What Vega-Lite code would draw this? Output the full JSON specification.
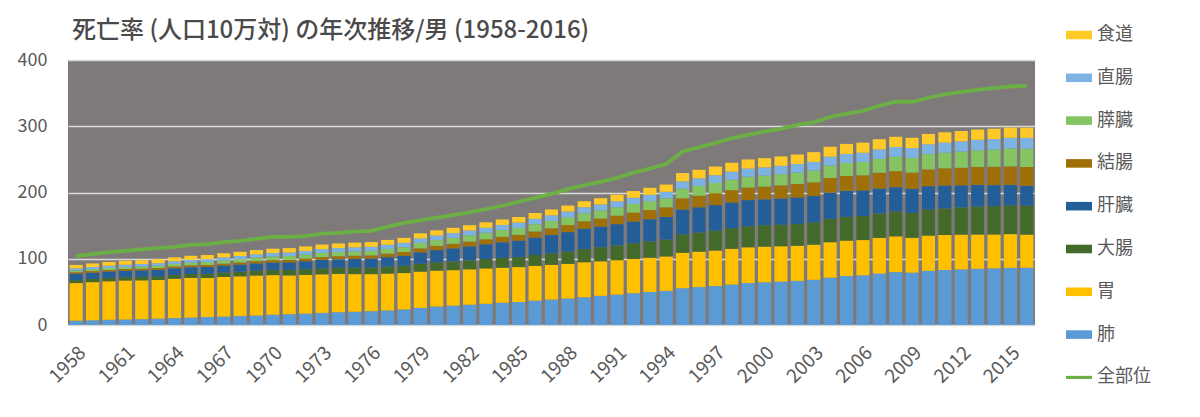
{
  "$schema": "https://vega.github.io/schema/vega-lite/v6.json",
  "width": 967,
  "height": 265,
  "autosize": {"type": "none"},
  "padding": {"left": 68, "top": 60, "right": 165, "bottom": 92},
  "background": "white",
  "title": {"text": "死亡率 (人口10万対) の年次推移/男 (1958-2016)", "anchor": "start", "frame": "group", "dx": 4, "offset": -21, "font": "Noto Sans CJK JP", "fontSize": 24, "fontWeight": 500, "color": "#4A4A4A"},
  "datasets": {
    "ranks": [
      {"series": "肺", "rank": 1}, {"series": "胃", "rank": 2}, {"series": "大腸", "rank": 3}, {"series": "肝臓", "rank": 4},
      {"series": "結腸", "rank": 5}, {"series": "膵臓", "rank": 6}, {"series": "直腸", "rank": 7}, {"series": "食道", "rank": 8}
    ]
  },
  "data": {"values": [
    {"year":1958,"肺":6.5,"胃":56.8,"大腸":4.5,"肝臓":9.5,"結腸":2.4,"膵臓":2.6,"直腸":3.2,"食道":5.2,"全部位":104},
    {"year":1959,"肺":7.2,"胃":57.5,"大腸":4.7,"肝臓":9.6,"結腸":2.4,"膵臓":2.8,"直腸":3.3,"食道":5.4,"全部位":107},
    {"year":1960,"肺":7.8,"胃":58.3,"大腸":4.9,"肝臓":9.7,"結腸":2.5,"膵臓":3.0,"直腸":3.4,"食道":5.6,"全部位":110},
    {"year":1961,"肺":8.3,"胃":58.8,"大腸":5.0,"肝臓":9.8,"結腸":2.5,"膵臓":3.2,"直腸":3.5,"食道":5.7,"全部位":112},
    {"year":1962,"肺":8.8,"胃":58.6,"大腸":5.2,"肝臓":9.8,"結腸":2.6,"膵臓":3.4,"直腸":3.6,"食道":5.8,"全部位":114},
    {"year":1963,"肺":9.6,"胃":58.4,"大腸":5.4,"肝臓":9.9,"結腸":2.7,"膵臓":3.6,"直腸":3.7,"食道":5.9,"全部位":116},
    {"year":1964,"肺":10.4,"胃":59.5,"大腸":5.7,"肝臓":10.0,"結腸":2.8,"膵臓":3.9,"直腸":3.9,"食道":6.0,"全部位":118},
    {"year":1965,"肺":11.2,"胃":59.8,"大腸":6.0,"肝臓":10.2,"結腸":2.9,"膵臓":4.2,"直腸":4.1,"食道":6.1,"全部位":121},
    {"year":1966,"肺":12.0,"胃":59.0,"大腸":6.3,"肝臓":10.3,"結腸":3.0,"膵臓":4.5,"直腸":4.3,"食道":6.2,"全部位":122},
    {"year":1967,"肺":12.7,"胃":59.8,"大腸":6.6,"肝臓":10.5,"結腸":3.1,"膵臓":4.8,"直腸":4.5,"食道":6.3,"全部位":125},
    {"year":1968,"肺":13.5,"胃":60.0,"大腸":7.0,"肝臓":10.7,"結腸":3.2,"膵臓":5.0,"直腸":4.7,"食道":6.4,"全部位":127},
    {"year":1969,"肺":14.3,"胃":60.4,"大腸":7.4,"肝臓":10.9,"結腸":3.4,"膵臓":5.3,"直腸":4.9,"食道":6.5,"全部位":130},
    {"year":1970,"肺":15.5,"胃":59.8,"大腸":7.8,"肝臓":11.2,"結腸":3.6,"膵臓":5.6,"直腸":5.1,"食道":6.6,"全部位":133},
    {"year":1971,"肺":16.3,"胃":58.6,"大腸":8.1,"肝臓":11.6,"結腸":3.8,"膵臓":5.8,"直腸":5.2,"食道":6.7,"全部位":133},
    {"year":1972,"肺":17.2,"胃":58.5,"大腸":8.5,"肝臓":12.1,"結腸":4.0,"膵臓":6.1,"直腸":5.4,"食道":6.8,"全部位":134},
    {"year":1973,"肺":18.2,"胃":58.3,"大腸":9.0,"肝臓":12.7,"結腸":4.3,"膵臓":6.4,"直腸":5.6,"食道":6.9,"全部位":138},
    {"year":1974,"肺":19.3,"胃":57.8,"大腸":9.4,"肝臓":12.8,"結腸":4.5,"膵臓":6.5,"直腸":5.8,"食道":7.0,"全部位":139},
    {"year":1975,"肺":20.0,"胃":56.8,"大腸":9.8,"肝臓":13.2,"結腸":4.8,"膵臓":6.6,"直腸":6.0,"食道":7.1,"全部位":141},
    {"year":1976,"肺":20.8,"胃":56.0,"大腸":9.9,"肝臓":13.6,"結腸":4.8,"膵臓":6.8,"直腸":6.1,"食道":7.2,"全部位":142},
    {"year":1977,"肺":22.0,"胃":55.6,"大腸":10.6,"肝臓":14.2,"結腸":5.3,"膵臓":7.1,"直腸":6.3,"食道":7.3,"全部位":148},
    {"year":1978,"肺":23.4,"胃":55.0,"大腸":11.1,"肝臓":15.0,"結腸":5.6,"膵臓":7.4,"直腸":6.5,"食道":7.5,"全部位":154},
    {"year":1979,"肺":25.8,"胃":54.8,"大腸":11.8,"肝臓":17.3,"結腸":6.0,"膵臓":8.3,"直腸":6.7,"食道":7.6,"全部位":158},
    {"year":1980,"肺":27.8,"胃":54.3,"大腸":12.5,"肝臓":18.5,"結腸":6.4,"膵臓":8.7,"直腸":6.9,"食道":7.8,"全部位":162},
    {"year":1981,"肺":29.2,"胃":53.6,"大腸":13.1,"肝臓":19.8,"結腸":6.8,"膵臓":9.1,"直腸":7.1,"食道":7.9,"全部位":166},
    {"year":1982,"肺":30.6,"胃":53.5,"大腸":13.6,"肝臓":21.0,"結腸":7.2,"膵臓":9.5,"直腸":7.3,"食道":8.0,"全部位":170},
    {"year":1983,"肺":32.0,"胃":53.4,"大腸":14.2,"肝臓":22.2,"結腸":7.6,"膵臓":9.9,"直腸":7.5,"食道":8.2,"全部位":175},
    {"year":1984,"肺":33.5,"胃":53.0,"大腸":14.8,"肝臓":23.6,"結腸":8.1,"膵臓":10.3,"直腸":7.7,"食道":8.3,"全部位":180},
    {"year":1985,"肺":34.6,"胃":52.8,"大腸":15.2,"肝臓":24.8,"結腸":8.6,"膵臓":10.6,"直腸":7.9,"食道":8.5,"全部位":186},
    {"year":1986,"肺":36.8,"胃":52.5,"大腸":16.3,"肝臓":26.4,"結腸":9.2,"膵臓":11.0,"直腸":8.1,"食道":8.7,"全部位":192},
    {"year":1987,"肺":38.4,"胃":52.4,"大腸":17.4,"肝臓":27.8,"結腸":9.9,"膵臓":11.3,"直腸":8.3,"食道":8.9,"全部位":198},
    {"year":1988,"肺":40.0,"胃":52.3,"大腸":18.7,"肝臓":29.2,"結腸":10.7,"膵臓":11.7,"直腸":8.6,"食道":9.1,"全部位":205},
    {"year":1989,"肺":42.0,"胃":52.6,"大腸":20.0,"肝臓":30.5,"結腸":11.5,"膵臓":12.1,"直腸":8.9,"食道":9.3,"全部位":211},
    {"year":1990,"肺":44.0,"胃":52.2,"大腸":21.2,"肝臓":31.2,"結腸":12.1,"膵臓":12.3,"直腸":8.9,"食道":9.5,"全部位":216},
    {"year":1991,"肺":45.8,"胃":52.0,"大腸":22.4,"肝臓":32.0,"結腸":12.8,"膵臓":12.6,"直腸":9.2,"食道":9.8,"全部位":222},
    {"year":1992,"肺":48.0,"胃":51.8,"大腸":23.6,"肝臓":32.8,"結腸":13.4,"膵臓":13.0,"直腸":9.4,"食道":10.2,"全部位":230},
    {"year":1993,"肺":49.8,"胃":51.8,"大腸":24.6,"肝臓":33.4,"結腸":14.0,"膵臓":13.3,"直腸":9.6,"食道":10.6,"全部位":236},
    {"year":1994,"肺":51.5,"胃":52.0,"大腸":25.5,"肝臓":34.0,"結腸":14.6,"膵臓":13.6,"直腸":9.8,"食道":11.0,"全部位":243},
    {"year":1995,"肺":55.5,"胃":53.4,"大腸":28.0,"肝臓":37.5,"結腸":16.8,"膵臓":14.5,"直腸":11.0,"食道":12.6,"全部位":262},
    {"year":1996,"肺":57.2,"胃":53.5,"大腸":29.0,"肝臓":38.0,"結腸":17.4,"膵臓":15.0,"直腸":11.3,"食道":12.9,"全部位":268},
    {"year":1997,"肺":58.8,"胃":53.6,"大腸":30.0,"肝臓":38.6,"結腸":18.0,"膵臓":15.4,"直腸":11.6,"食道":13.2,"全部位":275},
    {"year":1998,"肺":61.0,"胃":54.0,"大腸":31.0,"肝臓":39.0,"結腸":18.5,"膵臓":15.9,"直腸":12.0,"食道":13.5,"全部位":282},
    {"year":1999,"肺":63.3,"胃":54.0,"大腸":31.8,"肝臓":39.4,"結腸":19.1,"膵臓":16.3,"直腸":12.2,"食道":13.8,"全部位":287},
    {"year":2000,"肺":64.5,"胃":53.8,"大腸":32.2,"肝臓":39.2,"結腸":19.2,"膵臓":16.5,"直腸":12.4,"食道":14.1,"全部位":292},
    {"year":2001,"肺":65.5,"胃":53.4,"大腸":32.5,"肝臓":39.6,"結腸":19.7,"膵臓":16.9,"直腸":12.6,"食道":14.3,"全部位":296},
    {"year":2002,"肺":66.6,"胃":53.0,"大腸":33.0,"肝臓":40.0,"結腸":20.2,"膵臓":17.3,"直腸":12.8,"食道":14.5,"全部位":302},
    {"year":2003,"肺":68.2,"胃":53.0,"大腸":33.6,"肝臓":39.8,"結腸":20.8,"膵臓":17.8,"直腸":13.0,"食道":14.7,"全部位":306},
    {"year":2004,"肺":71.4,"胃":53.6,"大腸":35.3,"肝臓":39.6,"結腸":22.0,"膵臓":18.9,"直腸":13.3,"食道":15.0,"全部位":314},
    {"year":2005,"肺":74.0,"胃":53.4,"大腸":35.8,"肝臓":39.4,"結腸":22.3,"膵臓":19.6,"直腸":13.7,"食道":15.2,"全部位":319},
    {"year":2006,"肺":75.0,"胃":53.2,"大腸":36.3,"肝臓":38.6,"結腸":22.8,"膵臓":20.2,"直腸":13.9,"食道":15.3,"全部位":323},
    {"year":2007,"肺":77.6,"胃":53.8,"大腸":37.0,"肝臓":37.6,"結腸":23.8,"膵臓":21.0,"直腸":14.2,"食道":15.4,"全部位":331},
    {"year":2008,"肺":79.8,"胃":54.0,"大腸":37.6,"肝臓":36.6,"結腸":24.2,"膵臓":21.8,"直腸":14.6,"食道":15.5,"全部位":337},
    {"year":2009,"肺":79.0,"胃":52.6,"大腸":37.8,"肝臓":36.0,"結腸":24.6,"膵臓":22.4,"直腸":14.7,"食道":15.5,"全部位":337},
    {"year":2010,"肺":81.8,"胃":53.2,"大腸":39.3,"肝臓":35.2,"結腸":25.4,"膵臓":23.0,"直腸":14.9,"食道":15.6,"全部位":343},
    {"year":2011,"肺":83.0,"胃":52.8,"大腸":40.3,"肝臓":34.4,"結腸":26.0,"膵臓":23.6,"直腸":15.2,"食道":15.6,"全部位":348},
    {"year":2012,"肺":84.0,"胃":52.4,"大腸":41.0,"肝臓":33.4,"結腸":26.6,"膵臓":24.4,"直腸":15.4,"食道":15.6,"全部位":352},
    {"year":2013,"肺":84.8,"胃":51.8,"大腸":42.2,"肝臓":32.5,"結腸":27.3,"膵臓":25.2,"直腸":15.7,"食道":15.6,"全部位":355},
    {"year":2014,"肺":85.5,"胃":51.2,"大腸":42.8,"肝臓":31.6,"結腸":27.7,"膵臓":26.0,"直腸":15.9,"食道":15.6,"全部位":358},
    {"year":2015,"肺":86.2,"胃":51.0,"大腸":43.5,"肝臓":30.8,"結腸":28.0,"膵臓":26.8,"直腸":16.2,"食道":15.5,"全部位":360},
    {"year":2016,"肺":86.4,"胃":50.0,"大腸":43.7,"肝臓":30.0,"結腸":28.4,"膵臓":27.5,"直腸":16.4,"食道":15.4,"全部位":361}
  ]},
  "layer": [
    {
      "transform": [
        {"fold": ["肺", "胃", "大腸", "肝臓", "結腸", "膵臓", "直腸", "食道"], "as": ["series", "value"]},
        {"lookup": "series", "from": {"data": {"name": "ranks"}, "key": "series", "fields": ["rank"]}}
      ],
      "mark": {"type": "bar"},
      "encoding": {
        "x": {"field": "year", "type": "ordinal", "scale": {"paddingInner": 0.2, "paddingOuter": 0.1},
              "axis": {"values": [1958,1961,1964,1967,1970,1973,1976,1979,1982,1985,1988,1991,1994,1997,2000,2003,2006,2009,2012,2015],
                       "title": null, "labelAngle": -45, "labelFontSize": 19, "labelColor": "#595959", "labelFont": "Noto Sans CJK JP",
                       "ticks": false, "domain": false, "labelPadding": 18, "grid": false}},
        "y": {"field": "value", "type": "quantitative", "stack": "zero", "scale": {"domain": [0, 400]},
              "axis": {"title": null, "values": [0,50,100,150,200,250,300,350,400], "labelFontSize": 18, "labelColor": "#595959", "labelFont": "Noto Sans CJK JP",
                       "ticks": false, "domain": false, "gridColor": "#D9D9D9", "gridWidth": 1.5, "labelPadding": 21}},
        "order": {"field": "rank", "type": "quantitative", "sort": "ascending"},
        "color": {"field": "series", "type": "nominal",
                  "sort": ["食道", "直腸", "膵臓", "結腸", "肝臓", "大腸", "胃", "肺", "全部位"],
                  "scale": {"domain": ["食道", "直腸", "膵臓", "結腸", "肝臓", "大腸", "胃", "肺", "全部位"],
                            "range": ["#FFC928", "#7DB3E3", "#85C462", "#A07008", "#245E99", "#436A2A", "#FFC000", "#5B9BD5", "#6CAF45"]},
                  "legend": {"title": null, "orient": "none", "legendX": 998, "legendY": -38, "symbolSize": 676, "rowPadding": 20.8,
                             "labelFontSize": 18, "labelColor": "#595959", "labelFont": "Noto Sans CJK JP", "labelOffset": 5, "padding": 0,
                             "symbolStrokeWidth": 0,
                             "encode": {"symbols": {"update": {"shape": {"signal": "datum.value === '全部位' ? 'M-1,-0.12L1,-0.12L1,0.12L-1,0.12Z' : 'M-1,-0.33L1,-0.33L1,0.33L-1,0.33Z'"}}}}}}
      }
    },
    {
      "mark": {"type": "line", "color": "#6CAF45", "strokeWidth": 3.8},
      "encoding": {
        "x": {"field": "year", "type": "ordinal"},
        "y": {"field": "全部位", "type": "quantitative"}
      }
    }
  ],
  "config": {"view": {"fill": "#7F7A7A", "stroke": null}, "font": "Noto Sans CJK JP"}
}
